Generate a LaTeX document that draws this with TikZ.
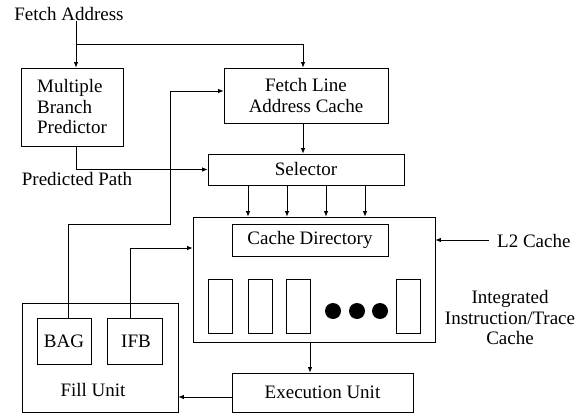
\documentclass[tikz,border=0pt]{standalone}
\usepackage{fontspec}
\setmainfont{Liberation Serif}
\usetikzlibrary{arrows.meta}
\begin{document}
\begin{tikzpicture}[x=1pt,y=-1pt,
  font=\fontsize{19}{20.5}\selectfont,
  box/.style={draw, line width=0.8pt, rectangle, inner sep=0pt},
  slot/.style={draw, line width=0.8pt, rectangle, inner sep=0pt, minimum width=24pt, minimum height=54pt},
  lbl/.style={inner sep=0pt},
  wire/.style={line width=0.8pt},
  arr/.style={line width=0.8pt, -{Latex[length=5.5pt,width=4.5pt]}},
  dot/.style={circle, fill=black, inner sep=0pt, minimum size=16pt}
]
\useasboundingbox (0,0) rectangle (585,414);

% text labels
\node[lbl, anchor=base] (fa) at (69,21) {Fetch Address};
\node[lbl, anchor=base] (pp) at (77,185) {Predicted Path};
\node[lbl, anchor=base west] (l2) at (497,247) {L2 Cache};
\node[lbl, align=center] (itc) at (510,317.5) {Integrated\\Instruction/Trace\\Cache};

% boxes
\node[box, align=left, minimum width=102pt, minimum height=78pt] (mbp) at (72,107) {Multiple\\Branch\\Predictor};
\node[box, align=center, minimum width=164pt, minimum height=55pt] (flac) at (306,95.5) {Fetch Line\\Address Cache};
\node[box, minimum width=196pt, minimum height=31pt] (sel) at (306,169.5) {Selector};
\node[box, minimum width=242pt, minimum height=125pt] (cache) at (314,279.5) {};
\node[box, minimum width=156pt, minimum height=32pt] (cd) at (310,240) {Cache Directory};
\node[slot] (s1) at (220,306) {};
\node[slot] (s2) at (260,306) {};
\node[slot] (s3) at (298.5,306) {};
\node[slot] (s4) at (408,306) {};
\node[dot] (d1) at (333,311) {};
\node[dot] (d2) at (357,311) {};
\node[dot] (d3) at (380,311) {};
\node[box, minimum width=181pt, minimum height=39pt] (exec) at (322.5,392.5) {Execution Unit};
\node[box, minimum width=156pt, minimum height=109pt] (fill) at (100,357.5) {};
\node[lbl, anchor=base] (fu) at (93,396) {Fill Unit};
\node[box, minimum width=54pt, minimum height=46pt] (bag) at (64,341) {BAG};
\node[box, minimum width=55pt, minimum height=46pt] (ifb) at (134.5,341) {\hspace{3pt}IFB};

% coordinates
\coordinate (fork) at (76,44);
\coordinate (fk2) at (303,44);
\coordinate (a1) at (248,0);
\coordinate (a2) at (287,0);
\coordinate (a3) at (326,0);
\coordinate (a4) at (365,0);
\coordinate (cx) at (310,0);
\coordinate (ey) at (0,397);
\coordinate (ib) at (130,248);
\coordinate (b1) at (68,224);
\coordinate (b2) at (170,224);
\coordinate (b3) at (170,91);
\coordinate (l2s) at (489,240);

% connectors
\draw[arr] (fa.south -| fork) -- (mbp.north -| fork);
\draw[arr] (fork) -- (fk2) -- (fk2 |- flac.north);
\draw[arr] (fk2 |- flac.south) -- (fk2 |- sel.north);
\draw[arr] (mbp.south -| fork) |- (sel.west);
\foreach \c in {a1,a2,a3,a4} \draw[arr] (\c |- sel.south) -- (\c |- cache.north);
\draw[arr] (cx |- cache.south) -- (cx |- exec.north);
\draw[arr] (exec.west |- ey) -- (fill.east |- ey);
\draw[arr] (l2s) -- (l2s -| cache.east);
\draw[arr] (ib |- ifb.north) -- (ib) -- (ib -| cache.west);
\draw[arr] (b1 |- bag.north) -- (b1) -- (b2) -- (b3) -- (b3 -| flac.west);
\end{tikzpicture}
\end{document}
